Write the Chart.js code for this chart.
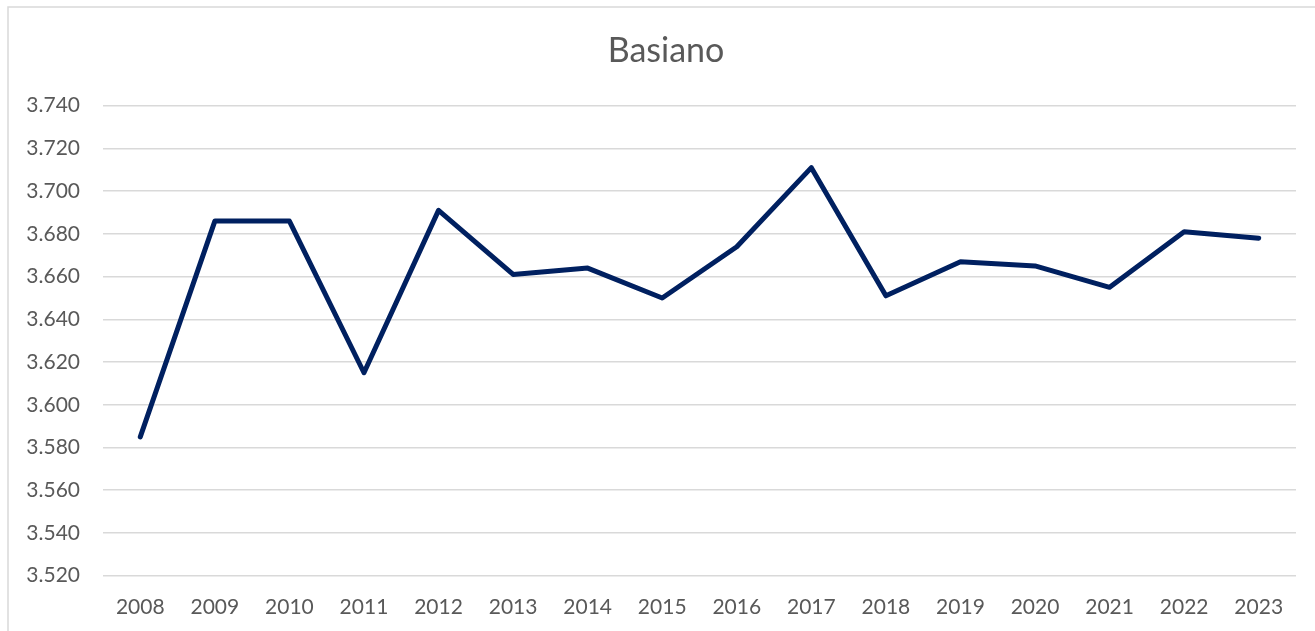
<!DOCTYPE html>
<html>
<head>
<meta charset="utf-8">
<script src="https://cdn.jsdelivr.net/npm/chart.js@4/dist/chart.umd.min.js"></script>
<style>
  html, body { margin: 0; padding: 0; background: #ffffff; }
  #wrap { position: absolute; left: 0; top: 0; width: 1315px; height: 631px; }
</style>
</head>
<body>
<div id="wrap"><canvas id="c" width="1315" height="631"></canvas></div>
<script>
const chartTitle = "Basiano";
const years = ["2008","2009","2010","2011","2012","2013","2014","2015","2016","2017","2018","2019","2020","2021","2022","2023"];
const population = [3585, 3686, 3686, 3615, 3691, 3661, 3664, 3650, 3674, 3711, 3651, 3667, 3665, 3655, 3681, 3678];
const yMin = 3520;
const yMax = 3740;
const yStep = 20;

function fmt(v) {
  return String(Math.round(v)).replace(/\B(?=(\d{3})+(?!\d))/g, ".");
}

const frame = {
  id: 'frame',
  afterLayout(chart) {
    if (chart.titleBlock) { chart.titleBlock.left = 36; }
  },
  beforeDraw(chart) {
    const ctx = chart.ctx;
    ctx.save();
    ctx.strokeStyle = '#d9d9d9';
    ctx.lineWidth = 1.5;
    ctx.beginPath();
    ctx.moveTo(8, 640);
    ctx.lineTo(8, 7);
    ctx.lineTo(1320, 7);
    ctx.stroke();
    ctx.restore();
  }
};

new Chart(document.getElementById('c'), {
  type: 'line',
  data: {
    labels: years,
    datasets: [{
      label: chartTitle,
      data: population,
      borderColor: '#002060',
      backgroundColor: '#002060',
      borderWidth: 5,
      borderJoinStyle: 'round',
      borderCapStyle: 'round',
      pointRadius: 0,
      tension: 0,
      fill: false
    }]
  },
  options: {
    responsive: false,
    animation: false,
    devicePixelRatio: 1,
    layout: { padding: { left: 8, right: 19, top: 0, bottom: 0 } },
    plugins: {
      legend: { display: false },
      tooltip: { enabled: false },
      title: {
        display: true,
        text: chartTitle,
        color: '#595959',
        font: { family: 'Lato', size: 34, weight: 'normal', lineHeight: 1.2 },
        padding: { top: 30.6, bottom: 34.3 }
      }
    },
    scales: {
      x: {
        offset: true,
        grid: { display: false, drawTicks: false },
        border: { display: false },
        ticks: {
          color: '#595959',
          font: { family: 'Lato', size: 21 },
          padding: 19,
          maxRotation: 0,
          autoSkip: false
        },
        afterFit(scale) { scale.height = 55.3; }
      },
      y: {
        min: yMin,
        max: yMax,
        grid: { color: '#d9d9d9', lineWidth: 1.5, drawTicks: false },
        border: { display: false },
        ticks: {
          stepSize: yStep,
          color: '#595959',
          font: { family: 'Lato', size: 21 },
          padding: 23,
          callback: (v) => fmt(v)
        },
        afterFit(scale) { scale.width = 95; }
      }
    }
  },
  plugins: [frame]
});
</script>
</body>
</html>
